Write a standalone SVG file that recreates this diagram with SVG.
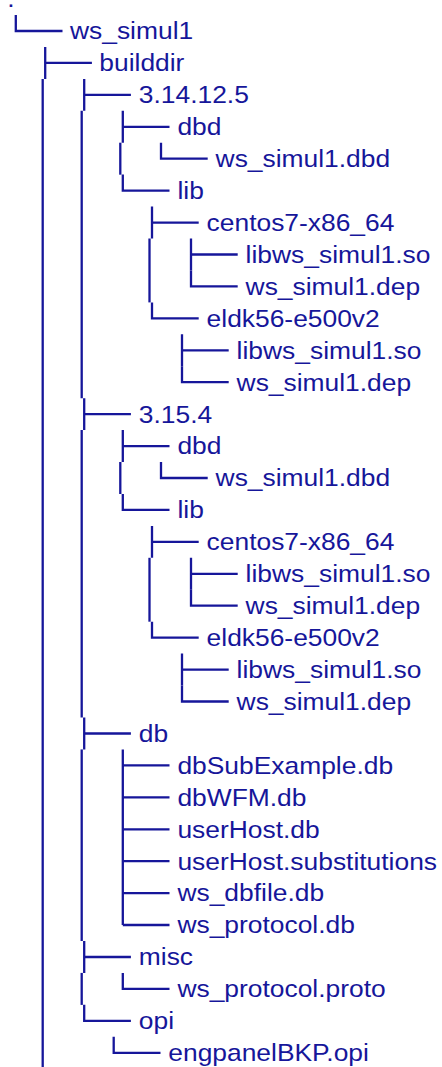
<svg xmlns="http://www.w3.org/2000/svg" width="442" height="1067" viewBox="0 0 442 1067">
  <style>
    .lbl { font-family: "Liberation Sans", Arial, sans-serif; font-size: 24px; fill: #16169a; transform: scale(1.1, 1); }
    .wire { fill: none; stroke: #16169a; stroke-width: 2.3; stroke-linecap: butt; stroke-linejoin: miter; }
  </style>
  <rect width="442" height="1067" fill="#ffffff"/>

  <!-- tree branches -->
  <g id="connectors" class="wire">
    <path d="M15.8,15 V31 H62.5"/>
    <path d="M45.2,46.9 V78.9 M45.2,62.9 H91.9"/>
    <path d="M42.7,78.9 V1067"/>
    <path d="M84.2,78.9 V110.8 M84.2,94.9 H130.9"/>
    <path d="M81.7,110.8 V398.2"/>
    <path d="M122.8,110.8 V142.7 M122.8,126.8 H169.5"/>
    <path d="M120.3,142.7 V174.7"/>
    <path d="M161,142.7 V158.7 H207.7"/>
    <path d="M122.8,174.6 V190.6 H169.5"/>
    <path d="M152,206.6 V238.5 M152,222.6 H198.7"/>
    <path d="M149.5,238.5 V302.4"/>
    <path d="M191,238.5 V270.5 M191,254.5 H237.7"/>
    <path d="M191,270.4 V286.4 H237.7"/>
    <path d="M152,302.4 V318.4 H198.7"/>
    <path d="M182,334.3 V366.3 M182,350.3 H228.7"/>
    <path d="M182,366.2 V382.2 H228.7"/>
    <path d="M84.2,398.2 V430.1 M84.2,414.2 H130.9"/>
    <path d="M81.7,430.1 V717.5"/>
    <path d="M122.8,430.1 V462.1 M122.8,446.1 H169.5"/>
    <path d="M120.3,462 V494"/>
    <path d="M161,462 V478 H207.7"/>
    <path d="M122.8,493.9 V509.9 H169.5"/>
    <path d="M152,525.9 V557.8 M152,541.9 H198.7"/>
    <path d="M149.5,557.8 V621.7"/>
    <path d="M191,557.8 V589.8 M191,573.8 H237.7"/>
    <path d="M191,589.7 V605.7 H237.7"/>
    <path d="M152,621.7 V637.7 H198.7"/>
    <path d="M182,653.6 V685.6 M182,669.6 H228.7"/>
    <path d="M182,685.5 V701.5 H228.7"/>
    <path d="M84.2,717.5 V749.4 M84.2,733.5 H130.9"/>
    <path d="M81.7,749.4 V941"/>
    <path d="M122.8,749.4 V925 M122.8,765.4 H169.5 M122.8,797.3 H169.5 M122.8,829.3 H169.5 M122.8,861.2 H169.5 M122.8,893.1 H169.5 M122.8,925 H169.5"/>
    <path d="M84.2,941 V972.9 M84.2,957 H130.9"/>
    <path d="M81.7,972.9 V1004.9"/>
    <path d="M122.8,972.9 V988.9 H169.5"/>
    <path d="M84.2,1004.8 V1020.8 H130.9"/>
    <path d="M113.7,1036.8 V1052.8 H160.5"/>
  </g>

  <!-- entries -->
  <g id="root" transform="translate(7.3,6.8)"><text class="lbl">.</text></g>
  <g id="ws_simul1" transform="translate(70,39.3)"><text class="lbl">ws_simul1</text></g>
  <g id="builddir" transform="translate(99.3,71.2)"><text class="lbl">builddir</text></g>
  <g id="v3_14_12_5" transform="translate(138.8,103.2)"><text class="lbl">3.14.12.5</text></g>
  <g id="v3_14_dbd" transform="translate(177.4,135.1)"><text class="lbl">dbd</text></g>
  <g id="v3_14_dbd_file" transform="translate(215.6,167)"><text class="lbl">ws_simul1.dbd</text></g>
  <g id="v3_14_lib" transform="translate(177.4,199)"><text class="lbl">lib</text></g>
  <g id="v3_14_centos" transform="translate(206.6,230.9)"><text class="lbl">centos7-x86_64</text></g>
  <g id="v3_14_centos_so" transform="translate(245.6,262.8)"><text class="lbl">libws_simul1.so</text></g>
  <g id="v3_14_centos_dep" transform="translate(245.6,294.7)"><text class="lbl">ws_simul1.dep</text></g>
  <g id="v3_14_eldk" transform="translate(206.6,326.7)"><text class="lbl">eldk56-e500v2</text></g>
  <g id="v3_14_eldk_so" transform="translate(236.6,358.6)"><text class="lbl">libws_simul1.so</text></g>
  <g id="v3_14_eldk_dep" transform="translate(236.6,390.5)"><text class="lbl">ws_simul1.dep</text></g>
  <g id="v3_15_4" transform="translate(138.8,422.5)"><text class="lbl">3.15.4</text></g>
  <g id="v3_15_dbd" transform="translate(177.4,454.4)"><text class="lbl">dbd</text></g>
  <g id="v3_15_dbd_file" transform="translate(215.6,486.3)"><text class="lbl">ws_simul1.dbd</text></g>
  <g id="v3_15_lib" transform="translate(177.4,518.3)"><text class="lbl">lib</text></g>
  <g id="v3_15_centos" transform="translate(206.6,550.2)"><text class="lbl">centos7-x86_64</text></g>
  <g id="v3_15_centos_so" transform="translate(245.6,582.1)"><text class="lbl">libws_simul1.so</text></g>
  <g id="v3_15_centos_dep" transform="translate(245.6,614)"><text class="lbl">ws_simul1.dep</text></g>
  <g id="v3_15_eldk" transform="translate(206.6,646)"><text class="lbl">eldk56-e500v2</text></g>
  <g id="v3_15_eldk_so" transform="translate(236.6,677.9)"><text class="lbl">libws_simul1.so</text></g>
  <g id="v3_15_eldk_dep" transform="translate(236.6,709.8)"><text class="lbl">ws_simul1.dep</text></g>
  <g id="db" transform="translate(138.8,741.8)"><text class="lbl">db</text></g>
  <g id="db_sub_example" transform="translate(177.4,773.7)"><text class="lbl">dbSubExample.db</text></g>
  <g id="db_wfm" transform="translate(177.4,805.6)"><text class="lbl">dbWFM.db</text></g>
  <g id="db_user_host" transform="translate(177.4,837.6)"><text class="lbl">userHost.db</text></g>
  <g id="db_user_host_subst" transform="translate(177.4,869.5)"><text class="lbl">userHost.substitutions</text></g>
  <g id="db_ws_dbfile" transform="translate(177.4,901.4)"><text class="lbl">ws_dbfile.db</text></g>
  <g id="db_ws_protocol" transform="translate(177.4,933.3)"><text class="lbl">ws_protocol.db</text></g>
  <g id="misc" transform="translate(138.8,965.3)"><text class="lbl">misc</text></g>
  <g id="misc_proto" transform="translate(177.4,997.2)"><text class="lbl">ws_protocol.proto</text></g>
  <g id="opi" transform="translate(138.8,1029.1)"><text class="lbl">opi</text></g>
  <g id="opi_engpanel" transform="translate(168.3,1061.1)"><text class="lbl">engpanelBKP.opi</text></g>
</svg>
